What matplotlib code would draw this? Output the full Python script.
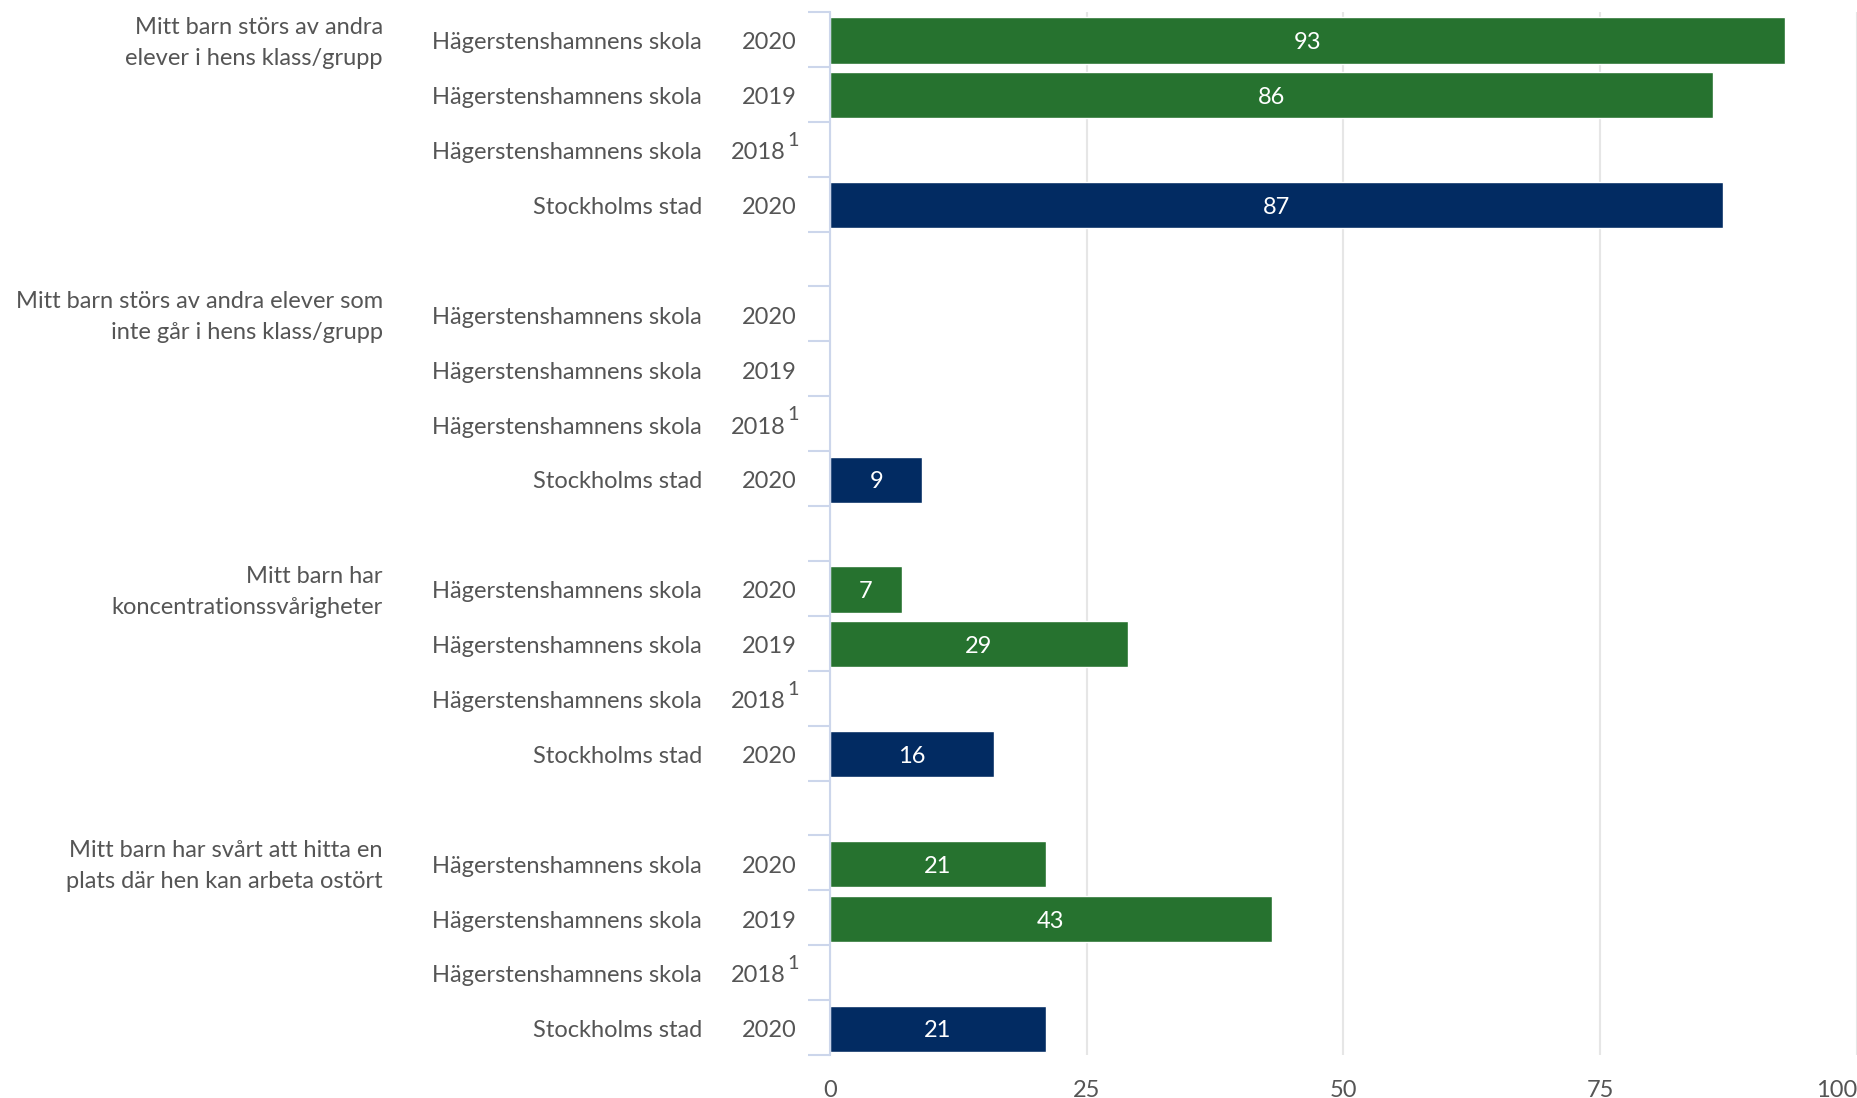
import numpy as np
import matplotlib.pyplot as plt
from matplotlib import transforms

plt.rcParams['font.family'] = ['Lato', 'DejaVu Sans']

groups = [
    "Mitt barn störs av andra\nelever i hens klass/grupp",
    "Mitt barn störs av andra elever som\ninte går i hens klass/grupp",
    "Mitt barn har\nkoncentrationssvårigheter",
    "Mitt barn har svårt att hitta en\nplats där hen kan arbeta ostört",
]
units = ["Hägerstenshamnens skola", "Hägerstenshamnens skola",
         "Hägerstenshamnens skola", "Stockholms stad"]
years = ["2020", "2019", "2018", "2020"]
footnote = [False, False, True, False]

# värden per fråga (nan = inget värde)
values = [
    [93, 86, np.nan, 87],
    [np.nan, np.nan, np.nan, 9],
    [7, 29, np.nan, 16],
    [21, 43, np.nan, 21],
]

green = '#26722f'
navy = '#022b62'
colors = [green, green, green, navy]
txt = '#555555'
fs = 17
dy = 0.06  # texten sitter lite lägre än radens mitt

fig = plt.figure(figsize=(18.58, 10.98), dpi=100)
ax = fig.add_axes([830 / 1858, 1 - 1055 / 1098, 1027 / 1858, 1043 / 1098])

n_rows = len(groups) * 5 - 1
ax.set_xlim(0, 100)
ax.set_ylim(n_rows - 0.5, -0.5)

ax.set_axisbelow(True)
ax.xaxis.grid(True, color='#e6e6e6', linewidth=1.5)
for s in ['top', 'right', 'bottom']:
    ax.spines[s].set_visible(False)
ax.spines['left'].set_color('#ccd6eb')
ax.spines['left'].set_linewidth(1.5)

ax.set_xticks([0, 25, 50, 75, 100])
ax.tick_params(axis='x', length=0, pad=18, labelsize=fs, labelcolor=txt)
xl = ax.get_xticklabels()
xl[-1].set_horizontalalignment('right')

# tickmarks at row boundaries inside each group
yt = []
for g in range(len(groups)):
    yt += [g * 5 + r - 0.5 for r in range(5)]
ax.set_yticks(yt)
ax.set_yticklabels([])
ax.tick_params(axis='y', length=16, width=1.5, color='#ccd6eb')

tr = transforms.blended_transform_factory(fig.transFigure, ax.transData)

for g, label in enumerate(groups):
    y0 = g * 5
    ax.text(383 / 1858, y0 + dy, label, transform=tr, ha='right', va='center',
            fontsize=fs, color=txt, linespacing=1.58)
    for r in range(4):
        y = y0 + r
        ax.text(702 / 1858, y + dy, units[r], transform=tr, ha='right', va='center',
                fontsize=fs, color=txt)
        if footnote[r]:
            ax.text(786 / 1858, y + dy, years[r], transform=tr, ha='right', va='center',
                    fontsize=fs, color=txt)
            ax.text(787 / 1858, y - 0.16, "1", transform=tr, ha='left', va='center',
                    fontsize=fs * 0.85, color=txt)
        else:
            ax.text(797 / 1858, y + dy, years[r], transform=tr, ha='right', va='center',
                    fontsize=fs, color=txt)
        v = values[g][r]
        if not np.isnan(v):
            ax.barh(y + 0.02, v, height=0.84, color=colors[r], edgecolor='white', linewidth=1)
            ax.text(v / 2, y + dy, f"{v:.0f}", ha='center', va='center',
                    fontsize=fs, color='white')

fig.savefig('out.png', dpi=100)
